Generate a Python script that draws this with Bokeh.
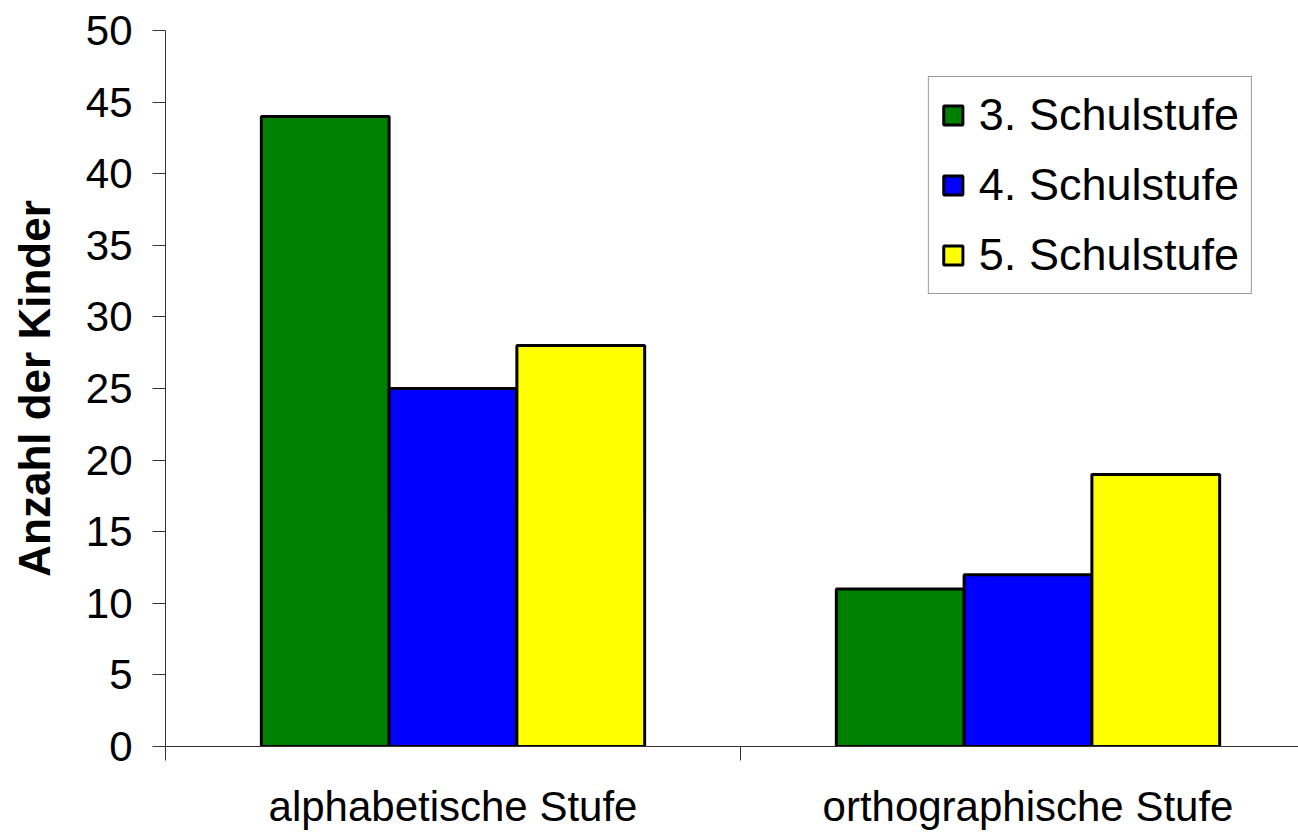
from bokeh.plotting import figure
from bokeh.models import Range1d, FixedTicker, ColumnDataSource, Legend, LegendItem
from bokeh.embed import file_html
from bokeh.resources import INLINE

categories = ["alphabetische Stufe", "orthographische Stufe"]
series = ["3. Schulstufe", "4. Schulstufe", "5. Schulstufe"]
values_3 = [44, 11]
values_4 = [25, 12]
values_5 = [28, 19]
colors = ["#008000", "#0000FF", "#FFFF00"]
y_ticks = [0, 5, 10, 15, 20, 25, 30, 35, 40, 45, 50]

W, H = 1298, 834
LEFT = 165
FRAME_W = W - LEFT
CAT = 2.0  # units per category (centres at 1, 3)
UNIT_PX = 575

p = figure(width=W, height=H, output_backend="svg", toolbar_location=None,
           x_range=Range1d(0, FRAME_W / UNIT_PX * CAT), y_range=Range1d(0, 50),
           min_border_left=LEFT, min_border_right=0, min_border_top=30,
           min_border_bottom=88)
p.outline_line_color = None
p.xgrid.visible = False
p.ygrid.visible = False
p.background_fill_color = "white"
p.border_fill_color = "white"

centers = [CAT * i + CAT / 2 for i in range(len(categories))]
bw = CAT * (2 / 3) / 3
items = []
for j, (name, vals, col) in enumerate(zip(series, [values_3, values_4, values_5], colors)):
    src = ColumnDataSource(dict(x=[c + (j - 1) * bw for c in centers], top=vals))
    r = p.vbar(x="x", top="top", width=bw, bottom=0, source=src,
               fill_color=col, line_color="black", line_width=3)
    items.append(LegendItem(label=name, renderers=[r]))

# x axis
xa = p.xaxis[0]
xa.ticker = FixedTicker(ticks=centers,
                        minor_ticks=[CAT * i for i in range(len(categories) + 1)])
xa.major_label_overrides = {int(c): lab for c, lab in zip(centers, categories)}
xa.major_tick_out = 0
xa.major_tick_in = 0
xa.minor_tick_out = 14
xa.minor_tick_in = 0
xa.minor_tick_line_color = "#333333"
xa.axis_line_color = "#333333"
xa.major_label_standoff = 22
xa.major_label_text_font = "Liberation Sans"
xa.major_label_text_font_size = "42px"
xa.major_label_text_color = "black"

# y axis
ya = p.yaxis[0]
ya.ticker = FixedTicker(ticks=y_ticks)
ya.major_tick_out = 13
ya.major_tick_in = 0
ya.minor_tick_line_color = None
ya.axis_line_color = "#333333"
ya.major_tick_line_color = "#333333"
ya.major_label_standoff = 20
ya.major_label_text_font = "Liberation Sans"
ya.major_label_text_font_size = "42px"
ya.major_label_text_color = "black"
ya.axis_label = "Anzahl der Kinder"
ya.axis_label_text_font = "Liberation Sans"
ya.axis_label_text_font_style = "bold"
ya.axis_label_text_font_size = "44px"
ya.axis_label_text_color = "black"
ya.axis_label_standoff = 24

legend = Legend(items=items, location="top_right")
legend.label_text_font = "Liberation Sans"
legend.label_text_font_size = "45px"
legend.label_text_color = "black"
legend.glyph_width = 24
legend.glyph_height = 24
legend.label_standoff = 14
legend.spacing = 18
legend.padding = 12
legend.margin = 46
legend.border_line_color = "#333333"
legend.border_line_width = 1
legend.background_fill_alpha = 1.0
p.add_layout(legend, "center")

open("out.html", "w").write(file_html(p, INLINE))
